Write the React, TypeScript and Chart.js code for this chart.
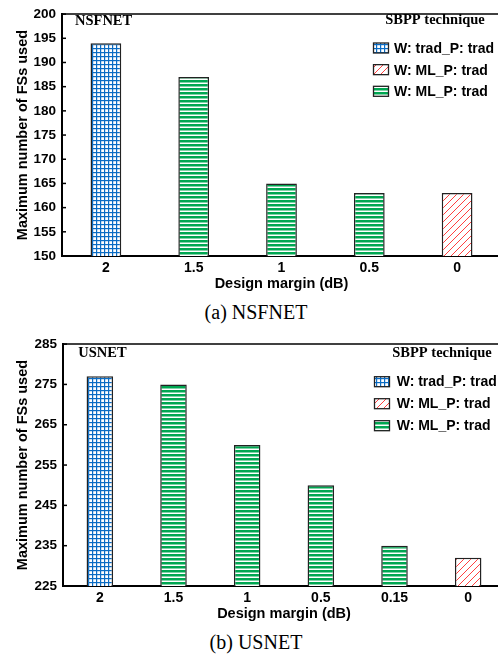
import React, { useEffect, useRef } from 'react';
import { Chart, registerables } from 'chart.js';

Chart.register(...registerables);

const SANS = '"Liberation Sans", Arial, sans-serif';
const SERIF = '"Liberation Serif", "Times New Roman", serif';

// ---------- Data ----------
const legendTitle = 'SBPP technique';
const legendLabels = ['W: trad_P: trad', 'W: ML_P: trad', 'W: ML_P: trad'];
const xTitle = 'Design margin (dB)';
const yTitle = 'Maximum number of FSs used';

const nsfnetMargins = ['2', '1.5', '1', '0.5', '0'];
const nsfnetTradTrad = [194, null, null, null, null];
const nsfnetMLTradRed = [null, null, null, null, 163];
const nsfnetMLTradGreen = [null, 187, 165, 163, null];
const nsfnetYRange = [150, 200];
const nsfnetYStep = 5;

const usnetMargins = ['2', '1.5', '1', '0.5', '0.15', '0'];
const usnetTradTrad = [277, null, null, null, null, null];
const usnetMLTradRed = [null, null, null, null, null, 232];
const usnetMLTradGreen = [null, 275, 260, 250, 235, null];
const usnetYRange = [225, 285];
const usnetYStep = 10;

// ---------- Patterns ----------
function makePattern(ctx: CanvasRenderingContext2D, kind: string): CanvasPattern {
  const c = document.createElement('canvas');
  const p = c.getContext('2d') as CanvasRenderingContext2D;
  if (kind === 'grid') {
    c.width = 4; c.height = 4;
    p.fillStyle = '#ffffff'; p.fillRect(0, 0, 4, 4);
    p.fillStyle = '#0a6cc4';
    p.fillRect(0, 0, 1.2, 4);
    p.fillRect(0, 0, 4, 1.2);
  } else if (kind === 'green') {
    c.width = 4; c.height = 4;
    p.fillStyle = '#ffffff'; p.fillRect(0, 0, 4, 4);
    p.fillStyle = '#00a651';
    p.fillRect(0, 0, 4, 2.5);
  } else {
    c.width = 7; c.height = 7;
    p.fillStyle = '#ffffff'; p.fillRect(0, 0, 7, 7);
    p.strokeStyle = '#ff2a2a';
    p.lineWidth = 0.9;
    p.beginPath();
    p.moveTo(-1, 8); p.lineTo(8, -1);
    p.moveTo(-1, 1); p.lineTo(1, -1);
    p.moveTo(6, 8); p.lineTo(8, 6);
    p.stroke();
  }
  return ctx.createPattern(c, 'repeat') as CanvasPattern;
}

type PanelCfg = {
  top: number;
  width: number;
  height: number;
  axisWidth: number;
  categories: string[];
  tradTrad: (number | null)[];
  mlRed: (number | null)[];
  mlGreen: (number | null)[];
  yRange: number[];
  yStep: number;
  barPct: number;
  netLabel: string;
  netX: number;
  netY: number;
  legTitleX: number;
  legTitleY: number;
  swX: number;
  swTop: number;
  textX: number;
  textBase: number;
  rowGap: number;
};

function ChartPanel({ cfg }: { cfg: PanelCfg }) {
  const ref = useRef<HTMLCanvasElement | null>(null);
  useEffect(() => {
    const canvas = ref.current;
    if (!canvas) return;
    const ctx = canvas.getContext('2d') as CanvasRenderingContext2D;
    const pGrid = makePattern(ctx, 'grid');
    const pRed = makePattern(ctx, 'red');
    const pGreen = makePattern(ctx, 'green');
    const swatches = [pGrid, pRed, pGreen];

    const overlay = {
      id: 'overlay' + cfg.netLabel,
      afterDraw(chart: any) {
        const c = chart.ctx as CanvasRenderingContext2D;
        const area = chart.chartArea;
        const ys = chart.scales.y;
        c.save();
        // top frame line
        c.strokeStyle = '#000';
        c.lineWidth = 1.5;
        c.beginPath();
        c.moveTo(area.left, area.top);
        c.lineTo(chart.width, area.top);
        c.stroke();
        // inward ticks on y axis
        c.lineWidth = 1.5;
        ys.ticks.forEach((t: any) => {
          const y = ys.getPixelForValue(t.value);
          c.beginPath();
          c.moveTo(area.left, y);
          c.lineTo(area.left + 4, y);
          c.stroke();
        });
        // network label
        c.fillStyle = '#000';
        c.textBaseline = 'alphabetic';
        c.textAlign = 'left';
        c.font = `bold 14.5px ${SERIF}`;
        c.fillText(cfg.netLabel, cfg.netX, cfg.netY);
        // legend title
        c.textAlign = 'center';
        c.fillText(legendTitle, cfg.legTitleX, cfg.legTitleY);
        // legend rows
        c.textAlign = 'left';
        c.font = `bold 14px ${SANS}`;
        legendLabels.forEach((lab, i) => {
          const sy = cfg.swTop + i * cfg.rowGap;
          c.fillStyle = swatches[i];
          c.fillRect(cfg.swX, sy, 15, 10);
          c.strokeStyle = '#222';
          c.lineWidth = 1.3;
          c.strokeRect(cfg.swX, sy, 15, 10);
          c.fillStyle = '#000';
          c.fillText(lab, cfg.textX, cfg.textBase + i * cfg.rowGap);
        });
        c.restore();
      },
    };

    const common = {
      borderColor: '#222',
      borderWidth: 1.5,
      grouped: false,
      barPercentage: cfg.barPct,
      categoryPercentage: 1,
      borderSkipped: false,
    };

    const chart = new Chart(canvas, {
      type: 'bar',
      data: {
        labels: cfg.categories,
        datasets: [
          { label: legendLabels[0], data: cfg.tradTrad, backgroundColor: pGrid, ...common },
          { label: legendLabels[1], data: cfg.mlRed, backgroundColor: pRed, ...common },
          { label: legendLabels[2], data: cfg.mlGreen, backgroundColor: pGreen, ...common },
        ] as any,
      },
      options: {
        responsive: false,
        animation: false,
        devicePixelRatio: 1,
        layout: { padding: { top: 10, right: 0, left: 0, bottom: 0 } },
        plugins: { legend: { display: false }, tooltip: { enabled: false } },
        scales: {
          x: {
            type: 'category',
            offset: true,
            grid: { display: true, drawOnChartArea: false, drawTicks: false, color: 'rgba(0,0,0,0)' },
            border: { display: true, color: '#000', width: 2 },
            ticks: {
              color: '#000',
              font: { family: SANS, size: 14, weight: 'bold' },
              padding: 4,
              maxRotation: 0,
              autoSkip: false,
            },
            title: {
              display: true,
              text: xTitle,
              color: '#000',
              font: { family: SANS, size: 14.5, weight: 'bold' },
              padding: { top: 0, bottom: 7 },
            },
            afterFit: (s: any) => { s.height = cfg.height - 256; },
          },
          y: {
            min: cfg.yRange[0],
            max: cfg.yRange[1],
            grid: { display: true, drawOnChartArea: false, drawTicks: false, color: 'rgba(0,0,0,0)' },
            border: { display: true, color: '#000', width: 2 },
            ticks: {
              stepSize: cfg.yStep,
              color: '#000',
              font: { family: SANS, size: 13.5, weight: 'bold' },
              padding: 6,
            },
            title: {
              display: true,
              text: yTitle,
              color: '#000',
              font: { family: SANS, size: 14.5, weight: 'bold' },
              padding: { top: 14.5, bottom: 0 },
            },
            afterFit: (s: any) => { s.width = cfg.axisWidth; },
          },
        },
      } as any,
      plugins: [overlay],
    });
    return () => chart.destroy();
  }, [cfg]);

  return (
    <canvas
      ref={ref}
      width={cfg.width}
      height={cfg.height}
      style={{ position: 'absolute', left: 0, top: cfg.top, width: cfg.width, height: cfg.height, display: 'block' }}
    />
  );
}

const nsfCfg: PanelCfg = {
  top: 0, width: 501, height: 300, axisWidth: 62,
  categories: nsfnetMargins, tradTrad: nsfnetTradTrad, mlRed: nsfnetMLTradRed, mlGreen: nsfnetMLTradGreen,
  yRange: nsfnetYRange, yStep: nsfnetYStep, barPct: 0.35,
  netLabel: 'NSFNET', netX: 75, netY: 25,
  legTitleX: 435, legTitleY: 23.5,
  swX: 373.5, swTop: 43, textX: 394, textBase: 53, rowGap: 21.65,
};

const usCfg: PanelCfg = {
  top: 330, width: 505, height: 300, axisWidth: 63,
  categories: usnetMargins, tradTrad: usnetTradTrad, mlRed: usnetMLTradRed, mlGreen: usnetMLTradGreen,
  yRange: usnetYRange, yStep: usnetYStep, barPct: 0.36,
  netLabel: 'USNET', netX: 78.3, netY: 26.7,
  legTitleX: 442, legTitleY: 26.7,
  swX: 374.5, swTop: 46.7, textX: 396.7, textBase: 56.3, rowGap: 22,
};

export default function App() {
  const capStyle = (top: number): React.CSSProperties => ({
    position: 'absolute',
    left: 0,
    width: 512,
    top,
    textAlign: 'center',
    fontFamily: SERIF,
    fontSize: 20,
    lineHeight: '20px',
    color: '#000',
    whiteSpace: 'nowrap',
  });
  return (
    <div style={{ position: 'absolute', left: 0, top: 0, width: 498, height: 656, overflow: 'hidden', background: '#fff' }}>
      <ChartPanel cfg={nsfCfg} />
      <div style={capStyle(301.75)}>(a) NSFNET</div>
      <ChartPanel cfg={usCfg} />
      <div style={capStyle(631.75)}>(b) USNET</div>
    </div>
  );
}
